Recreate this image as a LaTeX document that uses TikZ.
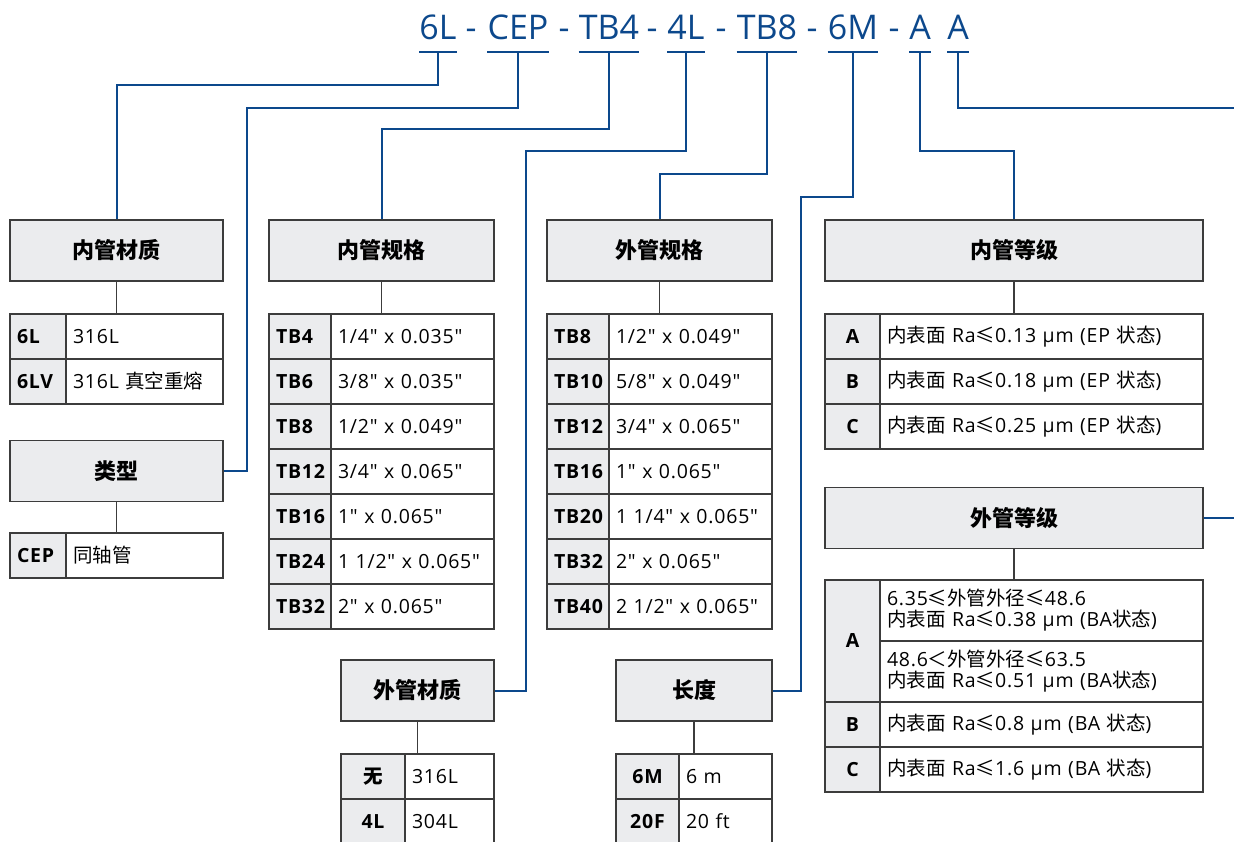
\documentclass[tikz,border=0pt]{standalone}
\usepackage{fontspec}
\setmainfont{Open Sans}[Ligatures=TeXOff, LetterSpace=4]
\newfontfamily\codefont{Open Sans}[Ligatures=TeXOff]
\newfontfamily\cjk{Noto Sans CJK SC}[Ligatures=TeXOff]
\newcommand{\zhtext}[1]{{\cjk #1}}
\usepackage{xcolor}
\usepackage{tikz}
\definecolor{codeblue}{RGB}{12, 72, 140}
\definecolor{boxgray}{RGB}{235, 236, 238}
\definecolor{linegray}{RGB}{60, 60, 60}
\usetikzlibrary{positioning}

\begin{document}
\begin{tikzpicture}[
    x=1pt, y=-1pt,
    code/.style={text=codeblue, font=\codefont\fontsize{34}{40}\selectfont, inner sep=0pt, anchor=base},
    conn/.style={draw=codeblue, line width=2pt},
    stem/.style={draw=linegray, line width=1.3pt},
    header/.style={rectangle, draw=linegray, fill=boxgray, line width=1.3pt, minimum height=61pt,
                   font=\cjk\bfseries\fontsize{22}{26}\selectfont},
    keycell/.style={rectangle, draw=linegray, fill=boxgray, line width=1.3pt, outer sep=0pt, inner xsep=7pt,
                    minimum height=45pt, align=left, font=\bfseries\fontsize{19.5}{22}\selectfont},
    valcell/.style={rectangle, draw=linegray, fill=white, line width=1.3pt, outer sep=0pt, inner xsep=7pt,
                    minimum height=45pt, align=left, font=\fontsize{19.5}{21}\selectfont}
]
    \useasboundingbox (0,0) rectangle (1234,842);

    \node[code] (c1) at (438,40) {6L};
    \node[code] (d1) at (471,40) {-};
    \node[code] (c2) at (518,40) {CEP};
    \node[code] (d2) at (564,40) {-};
    \node[code] (c3) at (609,40) {TB4};
    \node[code] (d3) at (652,40) {-};
    \node[code] (c4) at (686,40) {4L};
    \node[code] (d4) at (721,40) {-};
    \node[code] (c5) at (767,40) {TB8};
    \node[code] (d5) at (812,40) {-};
    \node[code] (c6) at (853,40) {6M};
    \node[code] (d6) at (894,40) {-};
    \node[code] (c7) at (920,40) {A};
    \node[code] (c8) at (958,40) {A};

    \node[header, minimum width=213pt] (inmat) at (116.5,250.5) {内管材质};
    \node[header, minimum width=213pt] (kind) at (116.5,471) {类型};
    \node[header, minimum width=225pt] (inspec) at (381.5,250.5) {内管规格};
    \node[header, minimum width=153pt] (outmat) at (417.5,690.5) {外管材质};
    \node[header, minimum width=225pt] (outspec) at (659.5,250.5) {外管规格};
    \node[header, minimum width=156pt] (len) at (694,690.5) {长度};
    \node[header, minimum width=378pt] (ingrade) at (1014,250.5) {内管等级};
    \node[header, minimum width=378pt] (outgrade) at (1014,518) {外管等级};

    \node[keycell, text width=42pt, anchor=north west] (k6l) at (10,314) {6L};
    \node[valcell, text width=143pt, right=0pt of k6l] (v6l) {316L};
    \node[keycell, text width=42pt, below=0pt of k6l] (k6lv) {6LV};
    \node[valcell, text width=143pt, right=0pt of k6lv] (v6lv) {316L \zhtext{真空重熔}};

    \node[keycell, text width=42pt, anchor=north west] (kcep) at (10,533) {CEP};
    \node[valcell, text width=143pt, right=0pt of kcep] (vcep) {\zhtext{同轴管}};

    \node[keycell, text width=48pt, anchor=north west] (ia) at (269,314) {TB4};
    \node[valcell, text width=149pt, right=0pt of ia] (iva) {1/4" x 0.035"};
    \node[keycell, text width=48pt, below=0pt of ia] (ib) {TB6};
    \node[valcell, text width=149pt, right=0pt of ib] (ivb) {3/8" x 0.035"};
    \node[keycell, text width=48pt, below=0pt of ib] (ic) {TB8};
    \node[valcell, text width=149pt, right=0pt of ic] (ivc) {1/2" x 0.049"};
    \node[keycell, text width=48pt, below=0pt of ic] (id) {TB12};
    \node[valcell, text width=149pt, right=0pt of id] (ivd) {3/4" x 0.065"};
    \node[keycell, text width=48pt, below=0pt of id] (ie) {TB16};
    \node[valcell, text width=149pt, right=0pt of ie] (ive) {1" x 0.065"};
    \node[keycell, text width=48pt, below=0pt of ie] (if) {TB24};
    \node[valcell, text width=149pt, right=0pt of if] (ivf) {1 1/2" x 0.065"};
    \node[keycell, text width=48pt, below=0pt of if] (ig) {TB32};
    \node[valcell, text width=149pt, right=0pt of ig] (ivg) {2" x 0.065"};

    \node[keycell, text width=48pt, anchor=north west] (oa) at (547,314) {TB8};
    \node[valcell, text width=149pt, right=0pt of oa] (ova) {1/2" x 0.049"};
    \node[keycell, text width=48pt, below=0pt of oa] (ob) {TB10};
    \node[valcell, text width=149pt, right=0pt of ob] (ovb) {5/8" x 0.049"};
    \node[keycell, text width=48pt, below=0pt of ob] (oc) {TB12};
    \node[valcell, text width=149pt, right=0pt of oc] (ovc) {3/4" x 0.065"};
    \node[keycell, text width=48pt, below=0pt of oc] (od) {TB16};
    \node[valcell, text width=149pt, right=0pt of od] (ovd) {1" x 0.065"};
    \node[keycell, text width=48pt, below=0pt of od] (oe) {TB20};
    \node[valcell, text width=149pt, right=0pt of oe] (ove) {1 1/4" x 0.065"};
    \node[keycell, text width=48pt, below=0pt of oe] (of) {TB32};
    \node[valcell, text width=149pt, right=0pt of of] (ovf) {2" x 0.065"};
    \node[keycell, text width=48pt, below=0pt of of] (og) {TB40};
    \node[valcell, text width=149pt, right=0pt of og] (ovg) {2 1/2" x 0.065"};

    \node[keycell, text width=50pt, align=center, anchor=north west] (kno) at (341,754) {\zhtext{无}};
    \node[valcell, text width=75pt, right=0pt of kno] (vno) {316L};
    \node[keycell, text width=50pt, align=center, below=0pt of kno] (k4l) {4L};
    \node[valcell, text width=75pt, right=0pt of k4l] (v4l) {304L};

    \node[keycell, text width=49pt, align=center, anchor=north west] (k6m) at (616,754) {6M};
    \node[valcell, text width=79pt, right=0pt of k6m] (v6m) {6 m};
    \node[keycell, text width=49pt, align=center, below=0pt of k6m] (k20f) {20F};
    \node[valcell, text width=79pt, right=0pt of k20f] (v20f) {20 ft};

    \node[keycell, text width=41pt, align=center, anchor=north west] (ga) at (825,314) {A};
    \node[valcell, text width=309pt, right=0pt of ga] (gva) {\zhtext{内表面} Ra\zhtext{≤}0.13 μm (EP \zhtext{状态})};
    \node[keycell, text width=41pt, align=center, below=0pt of ga] (gb) {B};
    \node[valcell, text width=309pt, right=0pt of gb] (gvb) {\zhtext{内表面} Ra\zhtext{≤}0.18 μm (EP \zhtext{状态})};
    \node[keycell, text width=41pt, align=center, below=0pt of gb] (gc) {C};
    \node[valcell, text width=309pt, right=0pt of gc] (gvc) {\zhtext{内表面} Ra\zhtext{≤}0.25 μm (EP \zhtext{状态})};

    \node[keycell, text width=41pt, align=center, minimum height=122pt, anchor=north west] (ha) at (825,580) {A};
    \node[valcell, text width=309pt, minimum height=61pt, anchor=north west] (hva) at (ha.north east)
        {6.35\zhtext{≤外管外径≤}48.6\\\zhtext{内表面} Ra\zhtext{≤}0.38 μm (BA\zhtext{状态})};
    \node[valcell, text width=309pt, minimum height=61pt, below=0pt of hva] (hvb)
        {48.6\zhtext{＜外管外径≤}63.5\\\zhtext{内表面} Ra\zhtext{≤}0.51 μm (BA\zhtext{状态})};
    \node[keycell, text width=41pt, align=center, below=0pt of ha] (hb) {B};
    \node[valcell, text width=309pt, right=0pt of hb] (hvc) {\zhtext{内表面} Ra\zhtext{≤}0.8 μm (BA \zhtext{状态})};
    \node[keycell, text width=41pt, align=center, below=0pt of hb] (hc) {C};
    \node[valcell, text width=309pt, right=0pt of hc] (hvd) {\zhtext{内表面} Ra\zhtext{≤}1.6 μm (BA \zhtext{状态})};

    \draw[stem] (inmat.south) -- (inmat.south |- k6l.north);
    \draw[stem] (kind.south) -- (kind.south |- kcep.north);
    \draw[stem] (inspec.south) -- (inspec.south |- ia.north);
    \draw[stem] (outspec.south) -- (outspec.south |- oa.north);
    \draw[stem] (outmat.south) -- (outmat.south |- kno.north);
    \draw[stem] (len.south) -- (len.south |- k6m.north);
    \draw[stem] (ingrade.south) -- (ingrade.south |- ga.north);
    \draw[stem] (outgrade.south) -- (outgrade.south |- ha.north);

    \draw[conn] ([yshift=-12pt]c1.base west) -- ([yshift=-12pt]c1.base east);
    \draw[conn] ([yshift=-12pt]c2.base west) -- ([yshift=-12pt]c2.base east);
    \draw[conn] ([yshift=-12pt]c3.base west) -- ([yshift=-12pt]c3.base east);
    \draw[conn] ([yshift=-12pt]c4.base west) -- ([yshift=-12pt]c4.base east);
    \draw[conn] ([yshift=-12pt]c5.base west) -- ([yshift=-12pt]c5.base east);
    \draw[conn] ([yshift=-12pt]c6.base west) -- ([yshift=-12pt]c6.base east);
    \draw[conn] ([yshift=-12pt]c7.base west) -- ([yshift=-12pt]c7.base east);
    \draw[conn] ([yshift=-12pt]c8.base west) -- ([yshift=-12pt]c8.base east);

    \draw[conn] ([yshift=-12pt]c1.base) -- ++(0,33) -| (inmat.north);
    \draw[conn] ([yshift=-12pt]c2.base) -- ++(0,56) -| ([xshift=23pt]kind.east) -- (kind.east);
    \draw[conn] ([yshift=-12pt]c3.base) -- ++(0,77) -| (inspec.north);
    \draw[conn] ([yshift=-12pt]c4.base) -- ++(0,99) -| ([xshift=31pt]outmat.east) -- (outmat.east);
    \draw[conn] ([yshift=-12pt]c5.base) -- ++(0,122) -| (outspec.north);
    \draw[conn] ([yshift=-12pt]c6.base) -- ++(0,145) -| ([xshift=28pt]len.east) -- (len.east);
    \draw[conn] ([yshift=-12pt]c7.base) -- ++(0,99) -| (ingrade.north);
    \draw[conn] ([yshift=-12pt]c8.base) -- ++(0,56) -| ([xshift=50pt]outgrade.east) -- (outgrade.east);
\end{tikzpicture}
\end{document}
